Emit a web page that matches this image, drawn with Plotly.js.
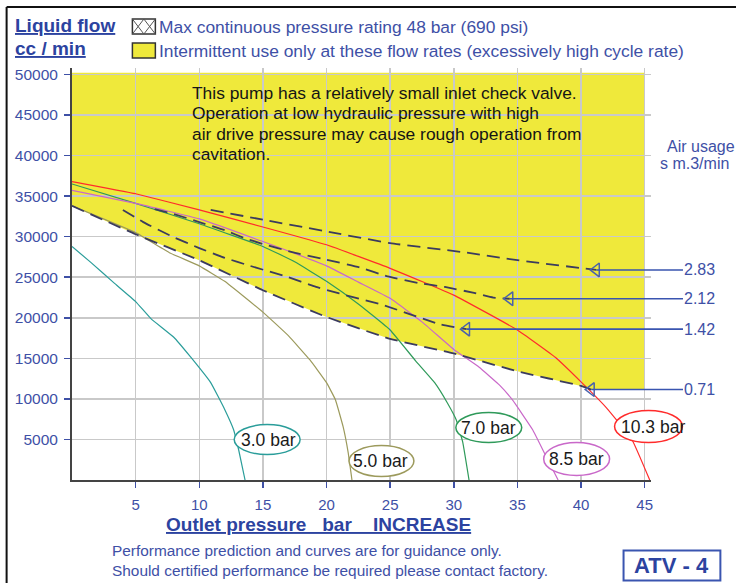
<!DOCTYPE html>
<html><head><meta charset="utf-8">
<script src="https://cdn.plot.ly/plotly-3.0.1.min.js"></script>
<style>html,body{margin:0;padding:0;background:#fff;overflow:hidden}#chart{width:736px;height:583px}</style>
</head><body><div id="chart"></div>
<script>
// ---------- DATA ----------
const xTickVals = [5, 10, 15, 20, 25, 30, 35, 40, 45];
const xTickText = ['5', '10', '15', '20', '25', '30', '35', '40', '45'];
const yTickVals = [5000, 10000, 15000, 20000, 25000, 30000, 35000, 40000, 45000, 50000];
const yTickText = ['5000', '10000', '15000', '20000', '25000', '30000', '35000', '40000', '45000', '50000'];

const curveLabels = ['3.0 bar', '5.0 bar', '7.0 bar', '8.5 bar', '10.3 bar'];
// air drive pressure curves: outlet pressure (bar) vs liquid flow (cc/min)
const curve30X = [0, 1.5, 3.3, 5, 6.2, 8, 9.3, 10.9, 12.0, 12.7, 13.1, 13.6];
const curve30Y = [28800, 26800, 24300, 22000, 19900, 17600, 15200, 12000, 8700, 6200, 3700, 0];
const curve50X = [0, 5, 7.7, 10, 12, 15, 17, 18.7, 20, 20.7, 21.3, 21.7, 22.0];
const curve50Y = [33800, 30500, 28000, 26400, 24500, 20700, 17800, 14800, 12000, 9900, 6600, 3400, 0];
const curve70X = [0, 5, 10, 15, 17.5, 20, 22.5, 25, 27, 28.5, 29.5, 30.2, 30.7, 31.2];
const curve70Y = [36500, 34100, 31600, 28800, 26900, 24500, 21700, 18500, 14700, 12000, 9500, 7400, 4700, 0];
const curve85X = [0, 5, 10, 15, 20, 22.5, 25, 27.5, 30, 32, 33.6, 34.6, 36.2, 37.1, 38.2];
const curve85Y = [35700, 34100, 32200, 29400, 26400, 24400, 22400, 19500, 16100, 13900, 11700, 9900, 6200, 3400, 0];
const curve103X = [0, 5, 10, 15, 20, 25, 30, 35, 38, 40, 42, 44, 45.4];
const curve103Y = [36800, 35300, 33300, 31200, 29000, 26100, 22800, 18500, 15100, 12100, 8900, 5000, 0];

// air usage lines (s m3/min)
const airLabels = ['2.83', '2.12', '1.42', '0.71'];
const air283X = [10.9, 15, 20.5, 25, 30.7, 35, 41.2];
const air283Y = [33300, 32100, 30500, 29200, 28100, 27100, 25900];
const air212X = [6.5, 8, 10, 12, 13.6, 15, 17.3, 19.9, 22.6, 24.8, 27.2, 29.3, 31.5, 33.1, 34.4];
const air212Y = [33400, 32800, 31800, 30800, 29800, 29100, 28100, 27200, 26200, 25100, 24300, 23800, 23100, 22500, 22350];
const air142X = [4, 5.6, 7.9, 10, 12, 14, 17, 19, 21, 24.4, 28.9, 31];
const air142Y = [33300, 31800, 30000, 28600, 27400, 26400, 25000, 23900, 23000, 21600, 19200, 18600];
const air071X = [0, 5, 10, 15, 20, 25, 30, 35, 40, 40.8];
const air071Y = [33800, 30300, 27100, 23400, 20100, 17400, 15600, 13400, 11600, 11150];

// intermittent-use (yellow) zone: above the 0.71 line up to the chart top, out to 45 bar
const zoneTopY = 50200;
const zoneRightX = 45;
const zoneRightBottomY = 11150;

// ---------- STYLE ----------
const FONT = 'Arial, "Liberation Sans", sans-serif';
const BLUE = '#3e50a6';
const TBLUE = '#2c43a0';
const W = 736, H = 583;
const L = 71.5, R = 84.5, T = 68, B = 102.5;
const PW = W - L - R, PH = H - T - B;
const px = v => (v - L) / PW;
const py = v => (H - B - v) / PH;

const curveX = [curve30X, curve50X, curve70X, curve85X, curve103X];
const curveY = [curve30Y, curve50Y, curve70Y, curve85Y, curve103Y];
const curveColors = ['#2a9d9a', '#9c9a5c', '#2f9a5a', '#c968c9', '#ff2b2b'];

const airX = [air283X, air212X, air142X, air071X];
const airY = [air283Y, air212Y, air142Y, air071Y];

const traces = [];
curveX.forEach((xs, i) => {
  traces.push({
    type: 'scatter', mode: 'lines', x: xs, y: curveY[i], name: curveLabels[i],
    line: {color: curveColors[i], width: 1.2, shape: 'spline', smoothing: 0.3},
    hoverinfo: 'skip', showlegend: false
  });
});
airX.forEach((xs, i) => {
  traces.push({
    type: 'scatter', mode: 'lines', x: xs, y: airY[i], name: airLabels[i],
    line: {color: '#3b3b5e', width: 1.8, dash: '13px,7px', shape: 'spline', smoothing: 0.4},
    hoverinfo: 'skip', showlegend: false
  });
});
traces.push({
  type: 'scatter', mode: 'markers',
  x: airX.map(a => a[a.length - 1]), y: airY.map(a => a[a.length - 1]),
  marker: {symbol: 'triangle-left-open', size: 12, color: '#4a62ac', line: {width: 1.5, color: '#4a62ac'}},
  cliponaxis: false, hoverinfo: 'skip', showlegend: false
});

// yellow zone path from the 0.71 boundary
let zonePath = `M ${air071X[0]},${zoneTopY} L ${zoneRightX},${zoneTopY} L ${zoneRightX},${zoneRightBottomY}`;
for (let i = air071X.length - 1; i >= 0; i--) zonePath += ` L ${air071X[i]},${air071Y[i]}`;
zonePath += ' Z';

const shapes = [
  {type: 'path', xref: 'x', yref: 'y', path: zonePath, fillcolor: '#efe93b', line: {width: 0}, layer: 'below'},
  // outer frame
  {type: 'line', xref: 'paper', yref: 'paper', x0: px(6), x1: px(737), y0: py(7), y1: py(7), line: {color: '#111', width: 2}},
  {type: 'line', xref: 'paper', yref: 'paper', x0: px(6), x1: px(6), y0: py(7), y1: py(584), line: {color: '#111', width: 2}},
  // legend boxes
  {type: 'rect', xref: 'paper', yref: 'paper', x0: px(132), x1: px(155), y0: py(34), y1: py(19), fillcolor: '#fff', line: {color: '#333', width: 1.5}},
  {type: 'line', xref: 'paper', yref: 'paper', x0: px(132), x1: px(143.5), y0: py(19), y1: py(34), line: {color: '#555', width: 1}},
  {type: 'line', xref: 'paper', yref: 'paper', x0: px(143.5), x1: px(132), y0: py(19), y1: py(34), line: {color: '#555', width: 1}},
  {type: 'line', xref: 'paper', yref: 'paper', x0: px(143.5), x1: px(155), y0: py(19), y1: py(34), line: {color: '#555', width: 1}},
  {type: 'line', xref: 'paper', yref: 'paper', x0: px(155), x1: px(143.5), y0: py(19), y1: py(34), line: {color: '#555', width: 1}},
  {type: 'rect', xref: 'paper', yref: 'paper', x0: px(132), x1: px(155), y0: py(58), y1: py(43), fillcolor: '#efe93b', line: {color: '#333', width: 1.5}},
  // ATV box
  {type: 'rect', xref: 'paper', yref: 'paper', x0: px(624), x1: px(721), y0: py(581), y1: py(551), fillcolor: 'rgba(0,0,0,0)', line: {color: '#3a55b0', width: 2}}
];

// label ellipses (pixel boxes)
const ellipseBoxes = [[234, 300, 425, 455], [349, 414, 446, 477], [456, 522, 413, 443], [544, 610, 443, 476], [615, 683, 411, 443]];
const ellipseTextX = [268, 381, 489, 577, 654];
const annotations = [];
ellipseBoxes.forEach((b, i) => {
  shapes.push({type: 'circle', xref: 'paper', yref: 'paper', x0: px(b[0]), x1: px(b[1]), y0: py(b[3]), y1: py(b[2]),
    fillcolor: '#fff', line: {color: curveColors[i], width: 1.5}, layer: 'above'});
  annotations.push({xref: 'paper', yref: 'paper', x: px(ellipseTextX[i]), y: py((b[2] + b[3]) / 2), text: curveLabels[i],
    showarrow: false, font: {family: FONT, size: 17.5, color: '#1a1a1a'}, xanchor: 'center', yanchor: 'middle'});
});

// air usage pointers
airX.forEach((xs, i) => {
  const lx = xs[xs.length - 1], ly = airY[i][airY[i].length - 1];
  annotations.push({xref: 'x', yref: 'y', x: lx, y: ly, axref: 'x', ayref: 'y', ax: 49.35, ay: ly,
    text: airLabels[i], showarrow: true, arrowhead: 0, arrowwidth: 1.6, arrowcolor: '#3a55b0', standoff: 0,
    font: {family: FONT, size: 16, color: BLUE}});
});

const txt = (x, y, text, size, color, anchor) => ({xref: 'paper', yref: 'paper', x: px(x), y: py(y), text: text,
  showarrow: false, font: {family: FONT, size: size, color: color}, xanchor: anchor || 'left', yanchor: 'middle'});

annotations.push(
  txt(12, 25, '<b><u>Liquid flow</u></b>', 19, TBLUE),
  txt(12, 48, '<b><u>cc / min</u></b>', 19, TBLUE),
  txt(157, 27, 'Max continuous pressure rating 48 bar (690 psi)', 17.4, BLUE),
  txt(157, 51, 'Intermittent use only at these flow rates (excessively high cycle rate)', 17.4, BLUE),
  txt(190, 93, 'This pump has a relatively small inlet check valve.', 17.4, '#151515'),
  txt(190, 113, 'Operation at low hydraulic pressure with high', 17.4, '#151515'),
  txt(190, 134, 'air drive pressure may cause rough operation from', 17.4, '#151515'),
  txt(190, 154, 'cavitation.', 17.4, '#151515'),
  txt(666, 147, 'Air usage', 16, BLUE),
  txt(659, 164, 's m.3/min', 16, BLUE),
  txt(318.5, 525, '<b><u>Outlet pressure\u00a0\u00a0\u00a0bar\u00a0\u00a0\u00a0\u00a0INCREASE</u></b>', 19, TBLUE, 'center'),
  txt(110, 551, 'Performance prediction and curves are for guidance only.', 15.4, BLUE),
  txt(110, 571, 'Should certified performance be required please contact factory.', 15.4, BLUE),
  txt(672.5, 566, '<b>ATV - 4</b>', 22, TBLUE, 'center')
);

const layout = {
  width: W, height: H,
  margin: {l: L, r: R, t: T, b: B, pad: 0},
  paper_bgcolor: '#fff', plot_bgcolor: '#fff',
  showlegend: false, hovermode: false,
  font: {family: FONT},
  xaxis: {
    range: [0, 45.5], tickvals: xTickVals, ticktext: xTickText,
    showgrid: true, gridcolor: '#c9c9c9', gridwidth: 1.5,
    showline: true, linecolor: '#444', linewidth: 2,
    ticks: 'outside', ticklen: 6, tickwidth: 1.5, tickcolor: '#3e50a6',
    tickfont: {family: FONT, size: 15, color: BLUE}, ticklabelstandoff: 4,
    zeroline: false, fixedrange: true
  },
  yaxis: {
    range: [0, 50800], tickvals: yTickVals, ticktext: yTickText,
    showgrid: true, gridcolor: '#c9c9c9', gridwidth: 1.5,
    showline: true, linecolor: '#444', linewidth: 2,
    ticks: 'outside', ticklen: 6, tickwidth: 1.5, tickcolor: '#3e50a6',
    tickfont: {family: FONT, size: 15.5, color: BLUE}, ticklabelstandoff: 3,
    zeroline: false, fixedrange: true
  },
  shapes: shapes,
  annotations: annotations
};

Plotly.newPlot('chart', traces, layout, {displayModeBar: false, staticPlot: true});
</script>
</body></html>
